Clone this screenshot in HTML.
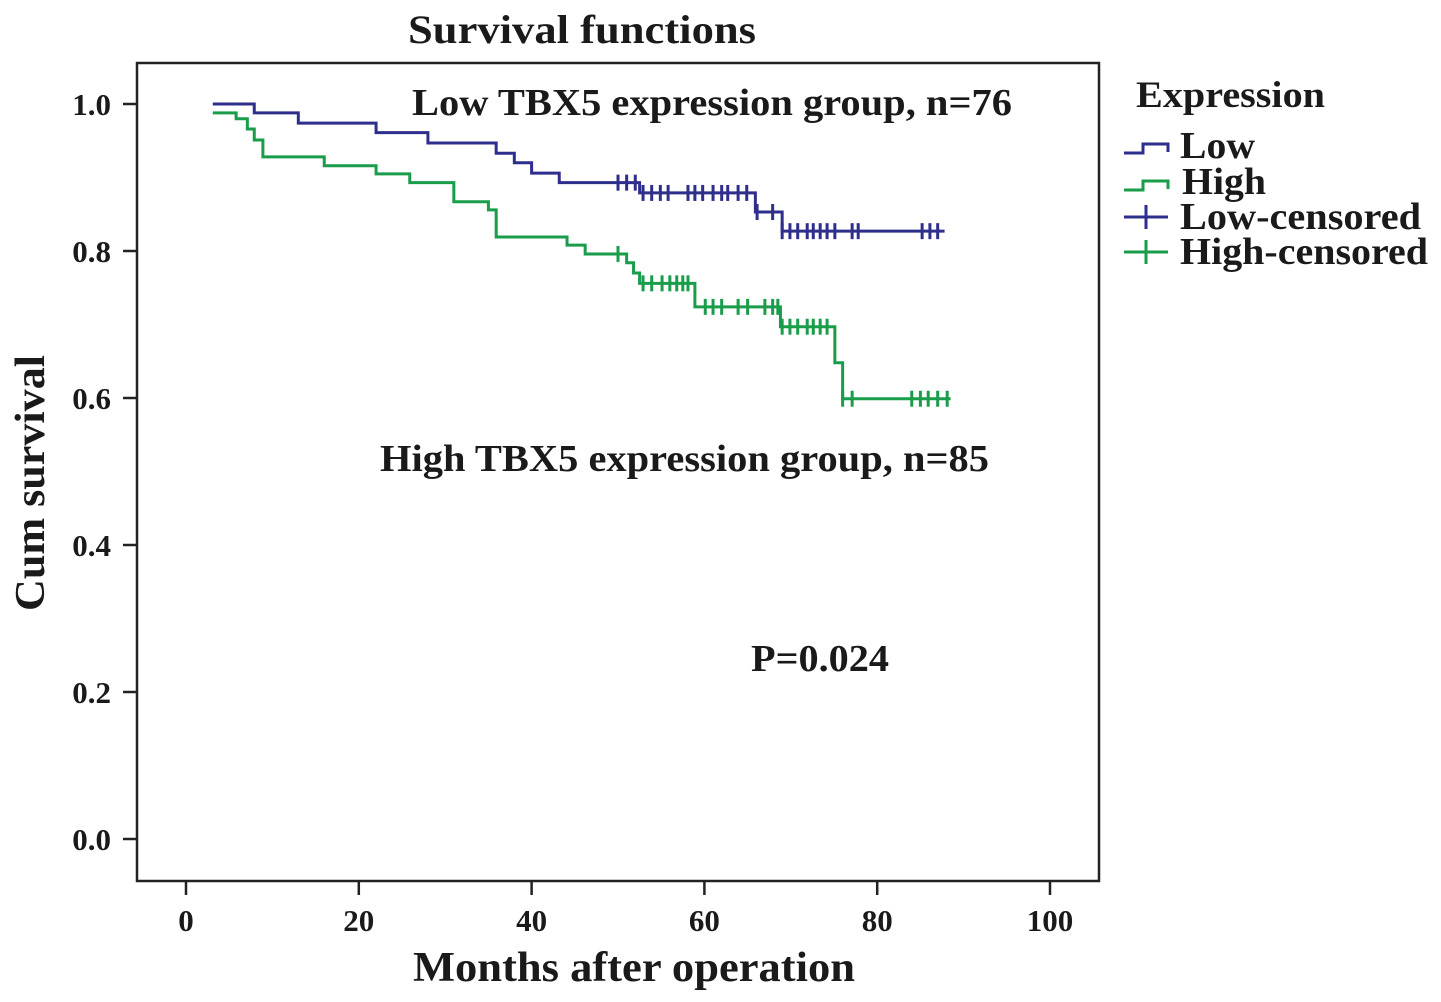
<!DOCTYPE html>
<html><head><meta charset="utf-8">
<style>
html,body{margin:0;padding:0;background:#fff;}
svg{display:block;}
text{font-family:"Liberation Serif",serif;font-weight:bold;fill:#1a1a1a;}
</style></head>
<body>
<svg id="chart" width="1441" height="1002" viewBox="0 0 1441 1002">
<text x="408" y="43" font-size="40" textLength="348" lengthAdjust="spacingAndGlyphs">Survival functions</text>
<rect x="137" y="63" width="962" height="818" fill="none" stroke="#222" stroke-width="2.5"/>
<g id="yaxis"></g>
<g id="xaxis"></g>
<text x="0" y="0" font-size="42" textLength="256" lengthAdjust="spacingAndGlyphs" transform="translate(44,611) rotate(-90)">Cum survival</text>
<text x="413" y="981" font-size="42" textLength="442" lengthAdjust="spacingAndGlyphs">Months after operation</text>
<g id="series"></g>
<text x="412" y="115" font-size="38" textLength="600" lengthAdjust="spacingAndGlyphs">Low TBX5 expression group, n=76</text>
<text x="380" y="471" font-size="38" textLength="609" lengthAdjust="spacingAndGlyphs">High TBX5 expression group, n=85</text>
<text x="751" y="671" font-size="38" textLength="138" lengthAdjust="spacingAndGlyphs">P=0.024</text>
<g>
<text x="1136" y="107" font-size="37" textLength="189" lengthAdjust="spacingAndGlyphs">Expression</text>
<g>
<path d="M1124 153 H1143 V144 H1168 V152" fill="none" stroke="#2e2f8c" stroke-width="3"/>
<text x="1180" y="158" font-size="38" textLength="75" lengthAdjust="spacingAndGlyphs">Low</text></g>
<g>
<path d="M1124 190 H1143 V181 H1168 V189" fill="none" stroke="#1a9d4a" stroke-width="3"/>
<text x="1182" y="194" font-size="38" textLength="84" lengthAdjust="spacingAndGlyphs">High</text></g>
<g>
<path d="M1124 217 H1168 M1146 205 V229" fill="none" stroke="#2e2f8c" stroke-width="3"/>
<text x="1180" y="229" font-size="38" textLength="241" lengthAdjust="spacingAndGlyphs">Low-censored</text></g>
<g>
<path d="M1124 252 H1168 M1146 240 V264" fill="none" stroke="#1a9d4a" stroke-width="3"/>
<text x="1180" y="264" font-size="38" textLength="248" lengthAdjust="spacingAndGlyphs">High-censored</text></g>
</g>
</svg>
<script>
const xTicks = [0,20,40,60,80,100];
const yTicks = [0.0,0.2,0.4,0.6,0.8,1.0];
const yTickLabels = ["0.0","0.2","0.4","0.6","0.8","1.0"];
const lowTimes = [3.1,7.9,13.0,22.0,28.0,35.9,38.0,40.0,43.2,52.5,65.9,69.0];
const lowSurv  = [1.0,0.988,0.974,0.961,0.947,0.933,0.920,0.906,0.893,0.879,0.853,0.827];
const lowEnd = 87.8;
const lowCensored = [50.0,51.0,52.0,52.9,53.9,54.9,55.8,58.1,58.9,59.8,61.0,62.0,62.7,63.9,64.9,66.1,67.9,69.0,69.9,70.8,71.9,72.6,73.4,74.2,75.1,77.1,77.8,85.2,86.1,87.0];
const highTimes = [3.1,5.8,7.1,7.9,8.9,16.0,22.0,25.9,31.0,35.0,35.9,44.1,46.2,51.0,51.8,52.5,58.9,68.8,75.1,76.0];
const highSurv  = [0.988,0.980,0.966,0.951,0.928,0.916,0.905,0.893,0.867,0.856,0.819,0.808,0.796,0.784,0.770,0.756,0.724,0.697,0.648,0.599];
const highEnd = 88.5;
const highCensored = [50.0,52.9,53.9,55.1,56.0,56.8,57.5,58.1,60.1,61.0,62.0,63.9,65.0,67.0,67.9,68.5,69.0,69.9,70.8,71.9,72.6,73.4,74.2,76.0,77.1,84.0,85.0,85.9,87.0,88.1];

const NS = "http://www.w3.org/2000/svg";
const X = m => 186 + m * 8.64;
const Y = s => 839 - s * 735;
function mk(tag, attrs, parent){const e=document.createElementNS(NS,tag);for(const k in attrs)e.setAttribute(k,attrs[k]);parent.appendChild(e);return e;}

const ya = document.getElementById('yaxis');
yTicks.forEach((v,i)=>{
  const t = mk('line',{x1:123,x2:137,y1:Y(v),y2:Y(v),stroke:'#222','stroke-width':2.5},ya);
  
  
  const l = mk('text',{x:111,y:Y(v)+11,'font-size':31,'text-anchor':'end'},ya);
  l.textContent = yTickLabels[i];
  
  
});
const xa = document.getElementById('xaxis');
xTicks.forEach(v=>{
  const t = mk('line',{x1:X(v),x2:X(v),y1:881,y2:895,stroke:'#222','stroke-width':2.5},xa);
  
  
  const l = mk('text',{x:X(v),y:931,'font-size':31,'text-anchor':'middle'},xa);
  l.textContent = String(v);
  
  
});

function stepCurve(times, surv, end, cens, color, name){
  const g = document.getElementById('series');
  let d = 'M'+X(times[0])+' '+Y(surv[0]);
  for(let i=1;i<times.length;i++){ d += ' H'+X(times[i])+' V'+Y(surv[i]); }
  d += ' H'+X(end);
  const p = mk('path',{d:d,fill:'none',stroke:color,'stroke-width':3},g);
  
  
  cens.forEach(c=>{
    let s = surv[0];
    for(let i=0;i<times.length;i++){ if(times[i]<=c) s=surv[i]; }
    const m = mk('line',{x1:X(c),x2:X(c),y1:Y(s)-8,y2:Y(s)+8,stroke:color,'stroke-width':3},g);
    
    
  });
}
stepCurve(lowTimes, lowSurv, lowEnd, lowCensored, '#2e2f8c', 'low');
stepCurve(highTimes, highSurv, highEnd, highCensored, '#1a9d4a', 'high');
</script>
</body></html>
